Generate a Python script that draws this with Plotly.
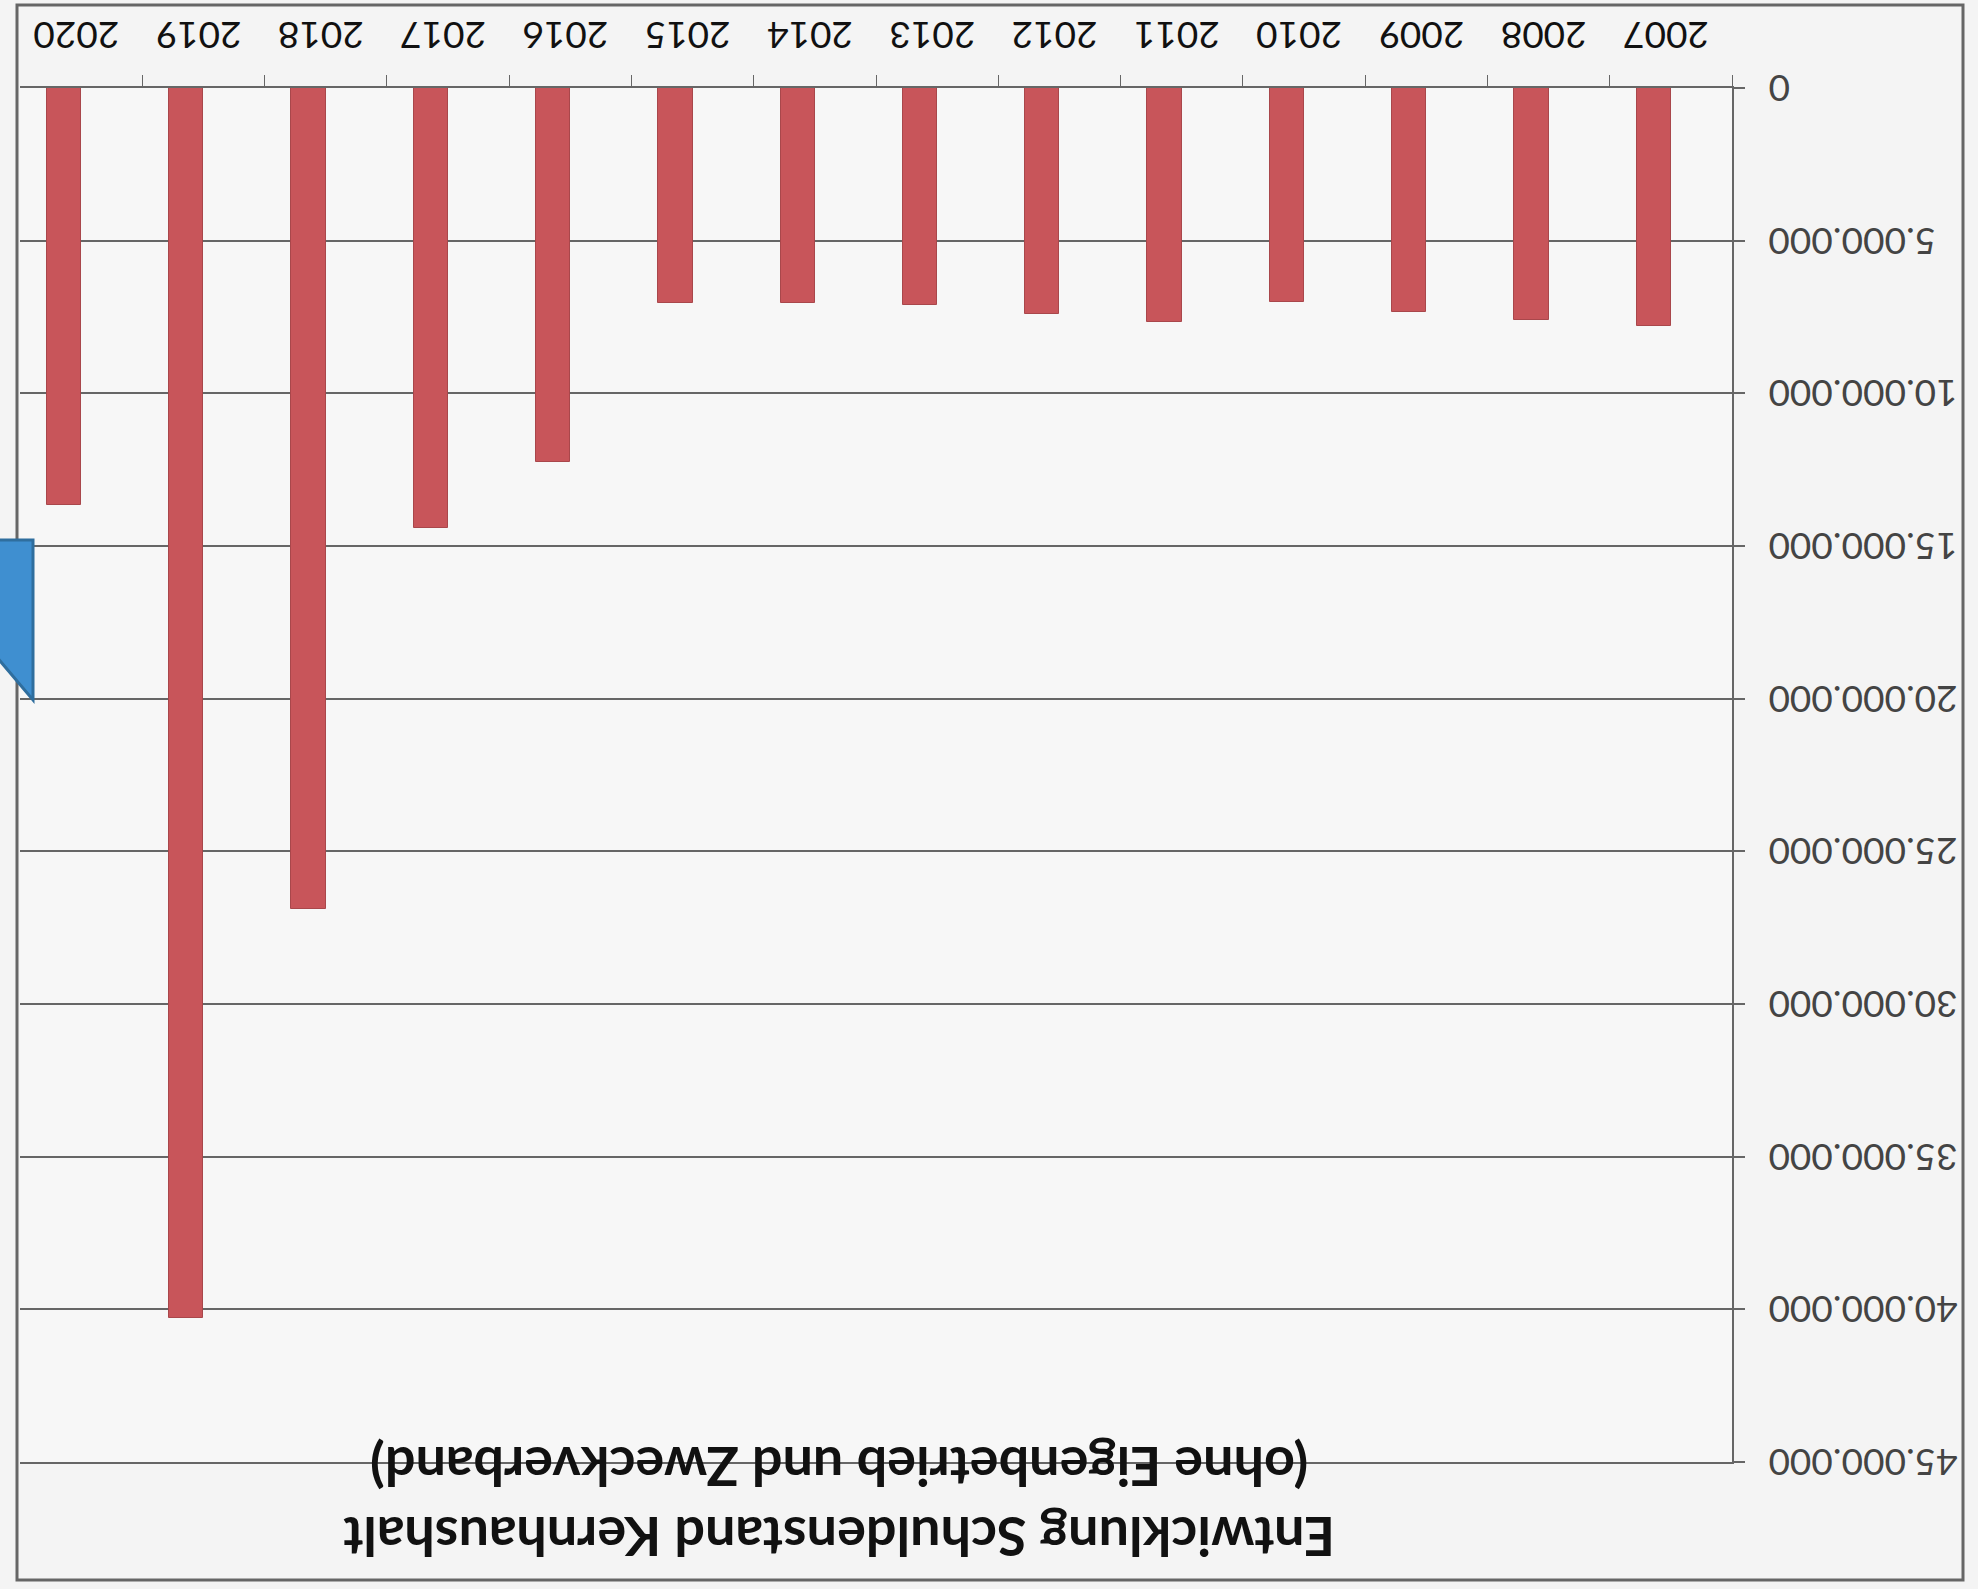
import plotly.graph_objects as go

years = ["2007", "2008", "2009", "2010", "2011", "2012", "2013",
         "2014", "2015", "2016", "2017", "2018", "2019", "2020"]
schuldenstand = [7800000, 7600000, 7350000, 7000000, 7650000, 7400000, 7100000,
                 7050000, 7050000, 12250000, 14400000, 26900000, 40300000, 13650000]
y_ticks = [0, 5000000, 10000000, 15000000, 20000000, 25000000,
           30000000, 35000000, 40000000, 45000000]
title_lines = ["Entwicklung Schuldenstand Kernhaushalt",
               "(ohne Eigenbetrieb und Zweckverband)"]

W, H = 1978, 1589
L, R, T, B = 20, 1732, 88, 1462  # plot area in pixels


def px(x):
    return (x - L) / (R - L)


def py(y):
    return 1 - (y - T) / (B - T)


grid_col = "#666666"
font_fam = "Lato, 'DejaVu Sans', sans-serif"

fig = go.Figure()
fig.add_trace(go.Bar(
    x=years, y=schuldenstand,
    width=0.28, offset=0.0,
    marker=dict(color="#c8555a", line=dict(color="#a9474b", width=1)),
))

fig.update_layout(
    width=W, height=H,
    margin=dict(l=L, r=W - R, t=T, b=H - B, autoexpand=False),
    paper_bgcolor="#f4f4f4",
    plot_bgcolor="#f7f7f7",
    separators=",.",
    showlegend=False,
    bargap=0,
    font=dict(family=font_fam, color="#111111", size=36),
    xaxis=dict(
        type="category", range=[len(years) - 0.5, -0.5], side="top",
        automargin=False, mirror=True,
        tickangle=180, tickfont=dict(size=37, family=font_fam),
        ticklabelstandoff=12, ticklabelshift=-38,
        showline=True, linecolor=grid_col, linewidth=2,
        ticks="outside", tickson="boundaries", ticklen=11, tickcolor=grid_col, tickwidth=1,
        showgrid=False, zeroline=False,
    ),
    yaxis=dict(
        range=[45000000, 0], side="right", automargin=False,
        tickvals=y_ticks, tickformat=",d",
        tickangle=180, tickfont=dict(size=37, family=font_fam),
        ticklabelposition="inside", ticklabeloverflow="allow",
        ticklabelstandoff=-32, ticklabelshift=-11,
        showline=True, linecolor=grid_col, linewidth=2,
        ticks="outside", ticklen=11, tickcolor=grid_col, tickwidth=2,
        showgrid=True, gridcolor=grid_col, gridwidth=2,
        zeroline=False,
    ),
)

# title (image is upside down)
fig.add_annotation(
    xref="paper", yref="paper", x=px(839), y=py(1503),
    text="<b>" + title_lines[0] + "</b><br><b>" + title_lines[1] + "</b>",
    showarrow=False, textangle=180, font=dict(size=54, family=font_fam, color="#111111"),
    xanchor="center", yanchor="middle", align="center",
)

# outer chart border
fig.add_shape(type="rect", xref="paper", yref="paper",
              x0=px(17), x1=px(1963), y0=py(1580), y1=py(5),
              line=dict(color="#666666", width=3), fillcolor="rgba(0,0,0,0)")

# partial blue arrow at the left edge
path = "M {a},{b} L {c},{b} L {c},{d} L {a},{e} Z".format(
    a=px(-5), b=py(540), c=px(33), d=py(700), e=py(655))
fig.add_shape(type="path", xref="paper", yref="paper", path=path,
              fillcolor="#3f8fd0", line=dict(color="#2f6e9e", width=3))

fig.write_html("out.html", config={"displayModeBar": False},
               post_script="document.body.style.margin='0';document.body.style.overflow='hidden';")
